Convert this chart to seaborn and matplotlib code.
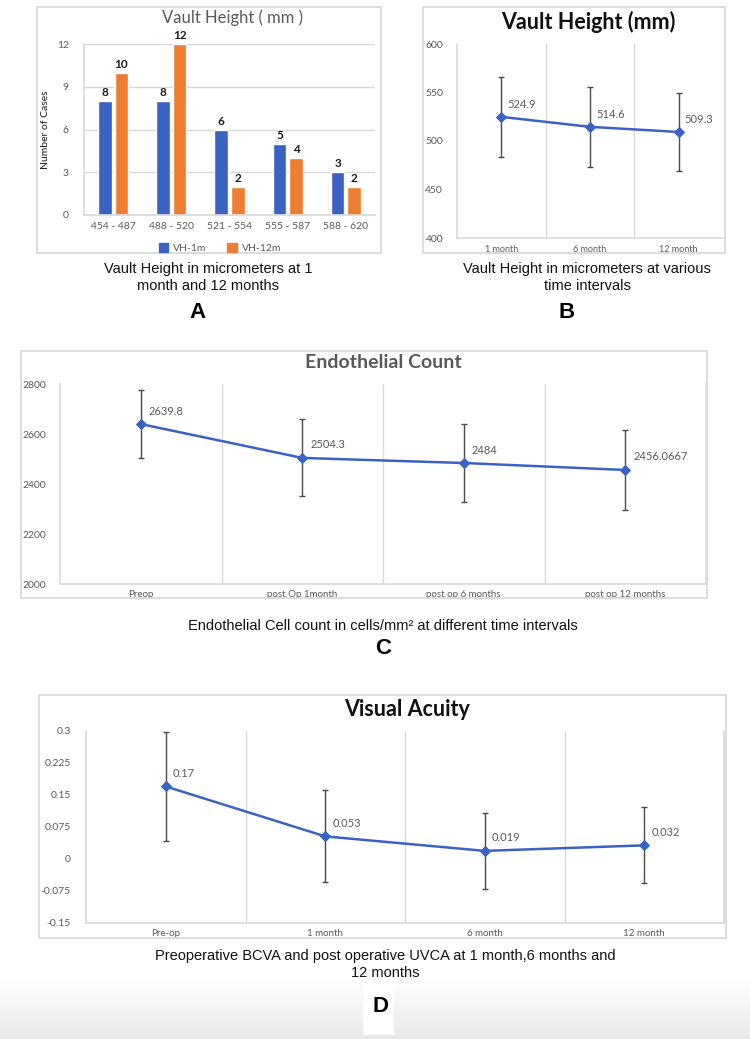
import numpy as np
import pandas as pd
import matplotlib
matplotlib.use("Agg")
import matplotlib.pyplot as plt
from matplotlib.patches import Rectangle, Patch
from matplotlib.colors import LinearSegmentedColormap
import seaborn as sns

# A - vault height distribution (number of cases)
vh_bins = ["454 - 487", "488 - 520", "521 - 554", "555 - 587", "588 - 620"]
vh_1m = [8, 8, 6, 5, 3]
vh_12m = [10, 12, 2, 4, 2]
vh_series = ["VH-1m", "VH-12m"]

# B - vault height over time
vh_times = ["1 month", "6 month", "12 month"]
vh_mean = [524.9, 514.6, 509.3]
vh_err = [41.5, 41, 40.5]

# C - endothelial cell count
ecc_times = ["Preop", "post Op 1month", "post op 6 months", "post op 12 months"]
ecc_mean = [2639.8, 2504.3, 2484, 2456.0667]
ecc_err = [137, 154, 156, 161]

# D - visual acuity
va_times = ["Pre-op", "1 month", "6 month", "12 month"]
va_mean = [0.17, 0.053, 0.019, 0.032]
va_err = [0.128, 0.108, 0.089, 0.089]
va_ticks = [-0.15, -0.075, 0, 0.075, 0.15, 0.225, 0.3]
va_ticklabels = ["-0.15", "-0.075", "0", "0.075", "0.15", "0.225", "0.3"]

BLUE = "#3a62c2"
ORANGE = "#ed7d31"
GRID = "#d9d9d9"
GREY_TXT = "#595959"

sns.set_theme(style="white")
plt.rcParams["font.family"] = ["Lato", "DejaVu Sans"]

W, H = 750, 1039
fig = plt.figure(figsize=(7.5, 10.39), dpi=100)
fig.patch.set_facecolor("white")


def px_axes(x0, y0, x1, y1, **kw):
    return fig.add_axes([x0 / W, 1 - y1 / H, (x1 - x0) / W, (y1 - y0) / H], **kw)


def frame(x0, y0, x1, y1):
    fig.patches.append(Rectangle((x0 / W, 1 - y1 / H), (x1 - x0) / W, (y1 - y0) / H,
                                 transform=fig.transFigure, fill=False, ec=GRID, lw=1.3, zorder=1))


def ftext(x, y, s, **kw):
    fig.text(x / W, 1 - y / H, s, **kw)


# faint grey gradient at the bottom of the figure
bg = px_axes(0, 977, 750, 1039, zorder=-5)
cmap = LinearSegmentedColormap.from_list("bg", ["#ffffff", "#e9e9e9"])
bg.imshow(np.linspace(0, 1, 60)[:, None], aspect="auto", cmap=cmap, extent=(0, 1, 0, 1))
bg.axis("off")
fig.patches.append(Rectangle((363 / W, 1 - 1035 / H), 31 / W, 58 / H,
                             transform=fig.transFigure, fc="white", ec="none", zorder=-4))


def style_line_axes(ax, n, ticks, labels=None, ypad=10, xpad=3, ysize=7.5, xsize=7, right=True):
    ax.set_facecolor("none")
    ax.set_xlim(-0.5, n - 0.5)
    ax.set_ylim(ticks[0], ticks[-1])
    ax.set_yticks(ticks, labels=labels)
    for k in range(n - 1):
        ax.axvline(k + 0.5, color=GRID, lw=1, zorder=0)
    for s in ["left", "bottom", "right"]:
        ax.spines[s].set_color(GRID)
        ax.spines[s].set_linewidth(1.2)
    ax.spines["right"].set_visible(right)
    ax.spines["top"].set_visible(False)
    ax.tick_params(axis="y", length=0, pad=ypad, labelsize=ysize, labelcolor=GREY_TXT)
    ax.tick_params(axis="x", length=0, pad=xpad, labelsize=xsize, labelcolor=GREY_TXT)
    ax.set_xlabel("")
    ax.set_ylabel("")


def line_with_errors(ax, times, mean, err, dx, dy, size=8):
    sns.lineplot(x=times, y=mean, ax=ax, sort=False, color=BLUE, lw=1.8,
                 marker="D", markersize=5, markeredgecolor=BLUE)
    ax.errorbar(range(len(times)), mean, yerr=err, fmt="none", ecolor="#4a4a4a",
                elinewidth=1, capsize=2.5, capthick=1, zorder=1)
    for i, v in enumerate(mean):
        ax.annotate(str(v), xy=(i, v), xytext=(dx, dy), textcoords="offset pixels",
                    ha="left", va="center", fontsize=size, color=GREY_TXT)


# ---------- A ----------
frame(37, 7, 381, 253)
axA = px_axes(84, 44, 375, 215)
dfA = pd.DataFrame({
    "range": vh_bins * 2,
    "cases": vh_1m + vh_12m,
    "series": [vh_series[0]] * len(vh_bins) + [vh_series[1]] * len(vh_bins),
})
sns.barplot(data=dfA, x="range", y="cases", hue="series", palette=[BLUE, ORANGE],
            width=0.57, gap=0.19, ax=axA, legend=False, saturation=1)
for c in axA.containers:
    axA.bar_label(c, fontsize=8.5, fontweight="bold", padding=2, color="#1a1a1a")
axA.set_facecolor("none")
axA.set_ylim(0, 12)
axA.set_yticks([0, 3, 6, 9, 12])
axA.yaxis.grid(True, color=GRID, lw=1)
axA.set_axisbelow(True)
for s in ["top", "right"]:
    axA.spines[s].set_visible(False)
for s in ["left", "bottom"]:
    axA.spines[s].set_color(GRID)
axA.tick_params(axis="y", length=0, pad=11, labelsize=7.5, labelcolor=GREY_TXT)
axA.tick_params(axis="x", length=0, pad=5, labelsize=7.5, labelcolor=GREY_TXT)
axA.set_xlabel("")
axA.set_ylabel("Number of Cases", fontsize=7.5, color="#1a1a1a")
axA.yaxis.set_label_coords((50 - 84) / (375 - 84), 0.5)
ftext(232, 18, "Vault Height ( mm )", ha="center", va="center", fontsize=12, color=GREY_TXT)
handles = [Patch(color=BLUE, label=vh_series[0]), Patch(color=ORANGE, label=vh_series[1])]
fig.legend(handles=handles, loc="center", bbox_to_anchor=(220 / W, 1 - 248 / H), ncol=2,
           frameon=False, fontsize=7.5, handlelength=0.9, handleheight=0.9,
           columnspacing=2.0, handletextpad=0.5, labelcolor=GREY_TXT)

# ---------- B ----------
frame(423, 7, 725, 253)
axB = px_axes(457, 44, 723, 238)
line_with_errors(axB, vh_times, vh_mean, vh_err, 6, 12)
style_line_axes(axB, len(vh_times), [400, 450, 500, 550, 600], ypad=10, xpad=5,
                ysize=7.5, xsize=6.5, right=False)
ftext(588, 22, "Vault Height (mm)", ha="center", va="center", fontsize=15.5, fontweight="bold", color="#111111")

# ---------- C ----------
frame(21, 351, 707, 598)
axC = px_axes(60, 384, 706, 584)
line_with_errors(axC, ecc_times, ecc_mean, ecc_err, 8, 13)
style_line_axes(axC, len(ecc_times), [2000, 2200, 2400, 2600, 2800], ypad=10, xpad=4, ysize=7.5, xsize=7)
ftext(383, 362, "Endothelial Count", ha="center", va="center", fontsize=14, fontweight="bold", color=GREY_TXT)

# ---------- D ----------
frame(39, 695, 726, 938)
axD = px_axes(86, 731, 724, 923)
line_with_errors(axD, va_times, va_mean, va_err, 7, 13)
style_line_axes(axD, len(va_times), va_ticks, labels=va_ticklabels, ypad=11, xpad=4, ysize=7.5, xsize=7)
ftext(407, 709, "Visual Acuity", ha="center", va="center", fontsize=15.5, fontweight="bold", color="#111111")

# captions and panel letters
cap = dict(ha="center", va="center", fontsize=10.5, family="Liberation Sans", color="#111111", linespacing=1.3)
ftext(208, 277.5, "Vault Height in micrometers at 1\nmonth and 12 months", **cap)
ftext(587, 277.5, "Vault Height in micrometers at various\ntime intervals", **cap)
ftext(383, 626, "Endothelial Cell count in cells/mm\u00b2 at different time intervals", **cap)
ftext(385, 964.7, "Preoperative BCVA and post operative UVCA at 1 month,6 months and\n12 months", **cap)

let = dict(ha="center", va="center", fontsize=16, fontweight="bold", family="Liberation Sans", color="black")
ftext(197, 313, "A", **let)
ftext(567, 313, "B", **let)
ftext(383, 648, "C", **let)
ftext(380, 1007, "D", **let)

fig.savefig("out.png", dpi=100)
